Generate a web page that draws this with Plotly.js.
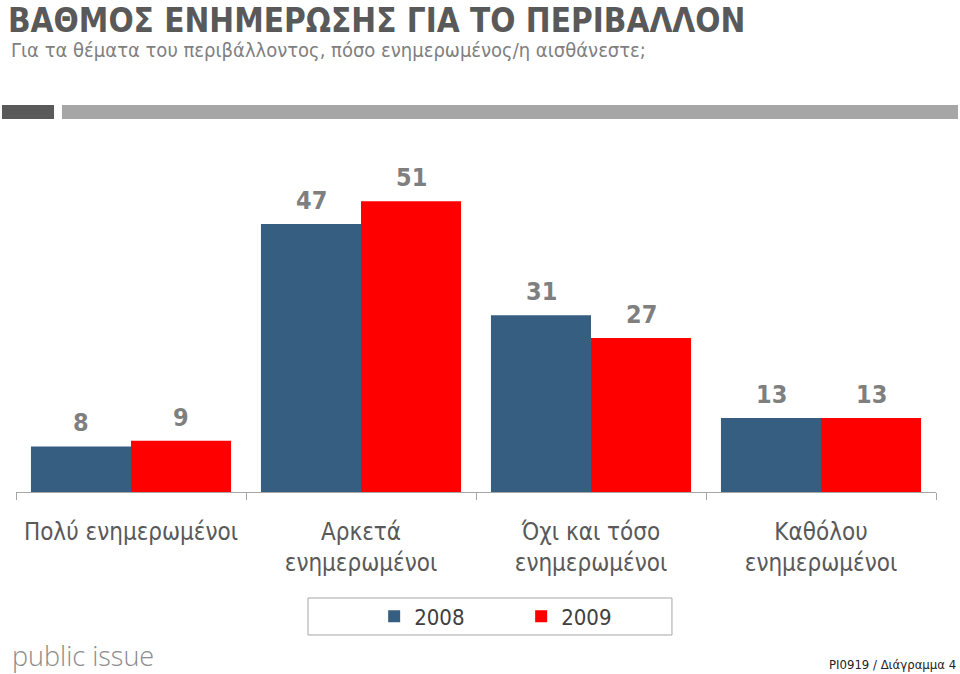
<!DOCTYPE html>
<html>
<head>
<meta charset="utf-8">
<script src="https://cdn.plot.ly/plotly-3.0.1.min.js"></script>
<style>html,body{margin:0;padding:0;background:#fff;}#chart{width:960px;height:674px;}</style>
</head>
<body>
<div id="chart"></div>
<script>
const categories = ["Πολύ ενημερωμένοι", "Αρκετά<br>ενημερωμένοι", "Όχι και τόσο<br>ενημερωμένοι", "Καθόλου<br>ενημερωμένοι"];
const seriesNames = ["2008", "2009"];
const values2008 = [8, 47, 31, 13];
const values2009 = [9, 51, 27, 13];
const colors = ["#365E80", "#FF0000"];
const titleText = "ΒΑΘΜΟΣ ΕΝΗΜΕΡΩΣΗΣ ΓΙΑ ΤΟ ΠΕΡΙΒΑΛΛΟΝ";
const subtitleText = "Για τα θέματα του περιβάλλοντος, πόσο ενημερωμένος/η αισθάνεστε;";

const FONT = "'Liberation Sans Narrow', 'Arial Narrow', 'DejaVu Sans Condensed', sans-serif";

const traces = [values2008, values2009].map((vals, i) => ({
  type: "bar",
  name: seriesNames[i],
  x: categories,
  y: vals,
  marker: {color: colors[i]},
  hoverinfo: "skip"
}));

const annotations = [];
[values2008, values2009].forEach((vals, i) => {
  vals.forEach((v, j) => {
    annotations.push({
      x: categories[j], y: v, xref: "x", yref: "y",
      xshift: i === 0 ? -50 : 50, yshift: 7,
      yanchor: "bottom", showarrow: false, text: String(v),
      font: {family: FONT, size: 25, color: "#7F7F7F", weight: 600}
    });
  });
});
annotations.push({
  xref: "paper", yref: "paper", x: -0.01, y: 1.4386, xanchor: "left", yanchor: "top",
  showarrow: false, borderpad: 0, text: "<b>" + titleText + "</b>",
  font: {family: FONT, size: 33, color: "#595959"}
});
annotations.push({
  xref: "paper", yref: "paper", x: -0.008, y: 1.292, xanchor: "left", yanchor: "middle",
  showarrow: false, text: subtitleText,
  font: {family: FONT, size: 20, color: "#7F7F7F"}
});
annotations.push({
  xref: "paper", yref: "paper", x: -0.006, y: -0.478, xanchor: "left", yanchor: "middle",
  showarrow: false, text: "public issue",
  font: {family: "'Open Sans', sans-serif", size: 27, color: "#8C8C8C", weight: 300}
});
annotations.push({
  xref: "paper", yref: "paper", x: 1.024, y: -0.503, xanchor: "right", yanchor: "middle",
  showarrow: false, text: "PI0919 / Διάγραμμα 4",
  font: {family: FONT, size: 13, color: "#222222"}
});

const layout = {
  width: 960, height: 674,
  margin: {l: 16, r: 24, t: 150, b: 182},
  paper_bgcolor: "#ffffff", plot_bgcolor: "#ffffff",
  barmode: "group", bargap: 0.13, bargroupgap: 0,
  xaxis: {
    type: "category",
    showline: true, linecolor: "#A6A6A6", linewidth: 1,
    ticks: "outside", tickson: "boundaries", ticklen: 7, tickcolor: "#A6A6A6",
    ticklabelstandoff: 18,
    tickfont: {family: FONT, size: 24, color: "#595959"},
    showgrid: false, zeroline: false, fixedrange: true
  },
  yaxis: {
    range: [0, 60], visible: false, showgrid: false, zeroline: false, fixedrange: true
  },
  showlegend: true,
  legend: {
    orientation: "h", x: 0.3893, xanchor: "left", y: -0.364, yanchor: "middle",
    bgcolor: "rgba(0,0,0,0)", entrywidth: 102, entrywidthmode: "pixels",
    font: {family: FONT, size: 22, color: "#404040"}, traceorder: "normal"
  },
  shapes: [
    {type: "rect", xref: "paper", yref: "paper", x0: -0.0152, x1: 0.0413, y0: 1.0906, y1: 1.1316,
     fillcolor: "#595959", line: {width: 0}},
    {type: "rect", xref: "paper", yref: "paper", x0: 0.05, x1: 1.0239, y0: 1.0906, y1: 1.1316,
     fillcolor: "#A6A6A6", line: {width: 0}},
    {type: "rect", xref: "paper", yref: "paper", x0: 0.3174, x1: 0.713, y0: -0.4181, y1: -0.3099,
     fillcolor: "rgba(0,0,0,0)", line: {width: 1, color: "#A6A6A6"}}
  ],
  annotations: annotations
};

Plotly.newPlot("chart", traces, layout, {displayModeBar: false, staticPlot: true});
</script>
</body>
</html>
